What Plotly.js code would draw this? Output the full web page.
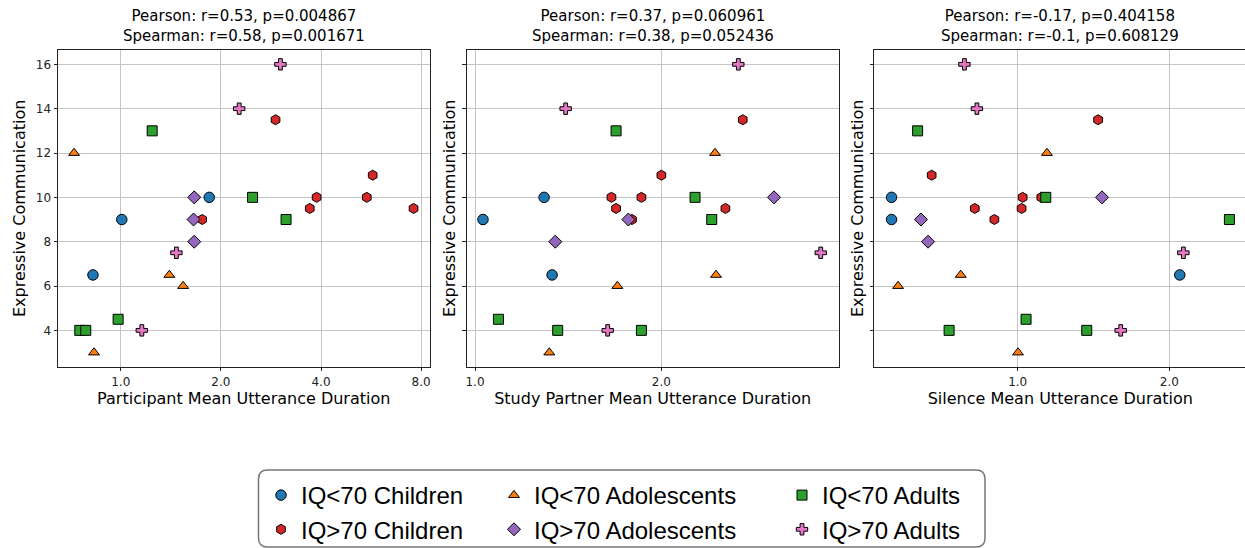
<!DOCTYPE html>
<html>
<head>
<meta charset="utf-8">
<script src="https://cdn.plot.ly/plotly-3.0.1.min.js"></script>
<style>
html, body { margin: 0; padding: 0; overflow: hidden; background: #fff; }
#chart { width: 1248px; height: 558px; }
</style>
</head>
<body>
<div id="chart"></div>
<script>
// ---------- data ----------
const groupNames = ['IQ<70 Children', 'IQ>70 Children', 'IQ<70 Adolescents', 'IQ>70 Adolescents', 'IQ<70 Adults', 'IQ>70 Adults'];

// Expressive Communication (y) per group
const yLt70Children     = [10, 9, 6.5];
const yGt70Children     = [13.5, 11, 10, 10, 9.5, 9.5, 9];
const yLt70Adolescents  = [12, 6.5, 6, 3];
const yGt70Adolescents  = [10, 9, 8];
const yLt70Adults       = [13, 10, 9, 4.5, 4, 4];
const yGt70Adults       = [16, 14, 7.5, 4];

// Participant Mean Utterance Duration (x, panel 1)
const partLt70Children    = [1.845, 1.007, 0.825];
const partGt70Children    = [2.92, 5.72, 3.88, 5.49, 3.70, 7.59, 1.757];
const partLt70Adolescents = [0.724, 1.40, 1.54, 0.831];
const partGt70Adolescents = [1.663, 1.655, 1.663];
const partLt70Adults      = [1.243, 2.49, 3.14, 0.982, 0.753, 0.785];
const partGt70Adults      = [3.02, 2.27, 1.47, 1.157];

// Study Partner Mean Utterance Duration (x, panel 2)
const spLt70Children    = [1.293, 1.030, 1.332];
const spGt70Children    = [2.707, 2.0, 1.661, 1.857, 1.690, 2.538, 1.793];
const spLt70Adolescents = [2.442, 2.451, 1.698, 1.318];
const spGt70Adolescents = [3.041, 1.769, 1.348];
const spLt70Adults      = [1.690, 2.267, 2.412, 1.091, 1.360, 1.857];
const spGt70Adults      = [2.663, 1.401, 3.618, 1.638];

// Silence Mean Utterance Duration (x, panel 3)
const silLt70Children    = [0.562, 0.562, 2.097];
const silGt70Children    = [1.444, 0.675, 1.023, 1.114, 0.822, 1.018, 0.899];
const silLt70Adolescents = [1.143, 0.771, 0.579, 1.0015];
const silGt70Adolescents = [1.470, 0.643, 0.664];
const silLt70Adults      = [0.633, 1.137, 2.631, 1.039, 0.731, 1.371];
const silGt70Adults      = [0.784, 0.830, 2.132, 1.601];

const panelTitlesLine1 = ['Pearson: r=0.53, p=0.004867', 'Pearson: r=0.37, p=0.060961', 'Pearson: r=-0.17, p=0.404158'];
const panelTitlesLine2 = ['Spearman: r=0.58, p=0.001671', 'Spearman: r=0.38, p=0.052436', 'Spearman: r=-0.1, p=0.608129'];
const xLabels = ['Participant Mean Utterance Duration', 'Study Partner Mean Utterance Duration', 'Silence Mean Utterance Duration'];
const yLabel = 'Expressive Communication';
const xTickVals = [1, 2, 4, 8];
const xTickText = ['1.0', '2.0', '4.0', '8.0'];
const yTickVals = [4, 6, 8, 10, 12, 14, 16];

// ---------- styling ----------
const W = 1248, H = 558;
const ys = [yLt70Children, yGt70Children, yLt70Adolescents, yGt70Adolescents, yLt70Adults, yGt70Adults];
const xsByPanel = [
  [partLt70Children, partGt70Children, partLt70Adolescents, partGt70Adolescents, partLt70Adults, partGt70Adults],
  [spLt70Children, spGt70Children, spLt70Adolescents, spGt70Adolescents, spLt70Adults, spGt70Adults],
  [silLt70Children, silGt70Children, silLt70Adolescents, silGt70Adolescents, silLt70Adults, silGt70Adults]
];
const styles = [
  {color: '#1f77b4', symbol: 'circle', size: 10.5, legend: 'legend'},
  {color: '#d62728', symbol: 'hexagon', size: 10, legend: 'legend'},
  {color: '#ff7f0e', symbol: 'triangle-up', size: 9.5, legend: 'legend2'},
  {color: '#9467bd', symbol: 'diamond', size: 10, legend: 'legend2'},
  {color: '#2ca02c', symbol: 'square', size: 10, legend: 'legend3'},
  {color: '#e377c2', symbol: 'cross', size: 9.5, legend: 'legend3'}
];

const traces = [];
for (let p = 0; p < 3; p++) {
  for (let g = 0; g < 6; g++) {
    const st = styles[g];
    traces.push({
      type: 'scatter', mode: 'markers',
      x: xsByPanel[p][g], y: ys[g],
      name: groupNames[g],
      xaxis: p === 0 ? 'x' : 'x' + (p + 1),
      yaxis: p === 0 ? 'y' : 'y' + (p + 1),
      legend: st.legend,
      showlegend: p === 0,
      marker: {color: st.color, symbol: st.symbol, size: st.size, line: {color: '#000', width: 1}},
      hoverinfo: 'x+y+name'
    });
  }
}

// panel geometry in pixels (measured from the top-left of the page)
const panelsPx = [[58, 429.5], [466.7, 838.7], [874.3, 1246.4]];
const plotTop = 50, plotBottom = 366.7;
const xRanges = [[-0.6267, 3.0833], [-0.0447, 1.9517], [-0.9451, 1.5075]]; // log2 units
const yRange = [2.361, 16.647];

const layout = {
  width: W, height: H,
  margin: {l: 0, r: 0, t: 0, b: 0, pad: 0},
  paper_bgcolor: '#fff', plot_bgcolor: '#fff',
  font: {family: 'DejaVu Sans, sans-serif', size: 12, color: '#000'},
  annotations: [],
  shapes: []
};
for (let p = 0; p < 3; p++) {
  const sfx = p === 0 ? '' : String(p + 1);
  layout['xaxis' + sfx] = {
    type: 'log',
    domain: [panelsPx[p][0] / W, panelsPx[p][1] / W],
    range: xRanges[p].map(v => v * Math.LN2 / Math.LN10),
    anchor: 'y' + sfx,
    tickmode: 'array', tickvals: xTickVals, ticktext: xTickText,
    ticks: 'outside', ticklen: 3.5, tickwidth: 1, tickcolor: '#222',
    showline: true, linecolor: '#222', linewidth: 1, mirror: true,
    showgrid: true, gridcolor: '#c4c4c4', gridwidth: 1,
    zeroline: false,
    tickfont: {size: 12, color: '#222'},
    title: {text: xLabels[p], font: {size: 16, color: '#000'}, standoff: 5}
  };
  layout['yaxis' + sfx] = {
    domain: [1 - plotBottom / H, 1 - plotTop / H],
    range: yRange,
    anchor: 'x' + sfx,
    tickmode: 'array', tickvals: yTickVals,
    showticklabels: p === 0,
    ticks: 'outside', ticklen: 3.5, tickwidth: 1, tickcolor: '#222',
    showline: true, linecolor: '#222', linewidth: 1, mirror: true,
    showgrid: true, gridcolor: '#c4c4c4', gridwidth: 1,
    zeroline: false,
    tickfont: {size: 12, color: '#222'},
    title: {text: yLabel, font: {size: 16, color: '#000'}, standoff: p === 0 ? 6 : 2}
  };
  const cx = (panelsPx[p][0] + panelsPx[p][1]) / 2 / W;
  layout.annotations.push({
    text: panelTitlesLine1[p] + '<br>' + panelTitlesLine2[p],
    xref: 'paper', yref: 'paper', x: cx, y: 1 - 26 / H,
    xanchor: 'center', yanchor: 'middle', align: 'center', showarrow: false,
    font: {size: 15, color: '#000'}
  });
}

// legends (three columns inside one rounded frame)
const legendFont = {family: 'Liberation Sans, Arial, sans-serif', size: 24, color: '#000'};
const legendCols = [261, 494, 782];
['legend', 'legend2', 'legend3'].forEach((lg, i) => {
  layout[lg] = {
    x: legendCols[i] / W, y: 1 - 473 / H, xanchor: 'left', yanchor: 'top',
    xref: 'paper', yref: 'paper',
    orientation: 'v', bgcolor: 'rgba(0,0,0,0)', borderwidth: 0,
    font: legendFont, tracegroupgap: 0
  };
});
// rounded frame around legend
(function () {
  const x0 = 258.5, x1 = 985, y0 = 470, y1 = 547, r = 9;
  const px = v => (v / W).toFixed(5), py = v => (1 - v / H).toFixed(5);
  const path = `M ${px(x0 + r)},${py(y0)} L ${px(x1 - r)},${py(y0)} Q ${px(x1)},${py(y0)} ${px(x1)},${py(y0 + r)} ` +
    `L ${px(x1)},${py(y1 - r)} Q ${px(x1)},${py(y1)} ${px(x1 - r)},${py(y1)} ` +
    `L ${px(x0 + r)},${py(y1)} Q ${px(x0)},${py(y1)} ${px(x0)},${py(y1 - r)} ` +
    `L ${px(x0)},${py(y0 + r)} Q ${px(x0)},${py(y0)} ${px(x0 + r)},${py(y0)} Z`;
  layout.shapes.push({type: 'path', xref: 'paper', yref: 'paper', path: path,
    line: {color: '#777', width: 1.5}, fillcolor: 'rgba(255,255,255,0)', layer: 'below'});
})();

Plotly.newPlot('chart', traces, layout, {displayModeBar: false});
</script>
</body>
</html>
